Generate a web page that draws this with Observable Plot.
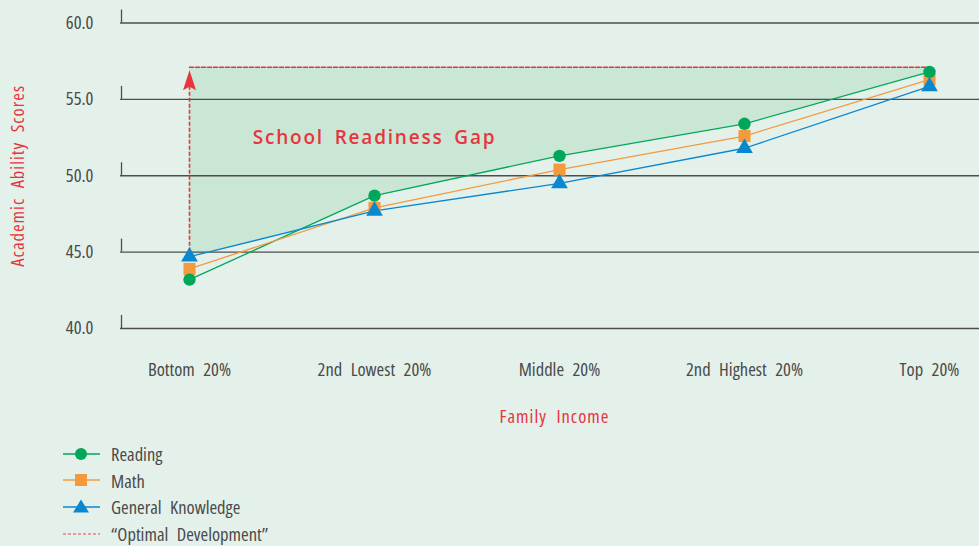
<!DOCTYPE html>
<html><head><meta charset="utf-8">
<script src="https://cdn.jsdelivr.net/npm/d3@7"></script>
<script src="https://cdn.jsdelivr.net/npm/@observablehq/plot@0.6"></script>
<style>
html,body{margin:0;padding:0;background:#e4f1ea;}
body{width:979px;height:546px;overflow:hidden;font-family:"Open Sans",sans-serif;}
#chart svg{display:block;}
#chart svg text{font-stretch:75%;word-spacing:5px;}
#chart svg text.title{letter-spacing:1px;}
#chart svg text.gap{font-stretch:100%;word-spacing:4px;letter-spacing:1.8px;}
#legend{position:relative;height:106px;}
.row{position:absolute;left:62px;height:20px;display:flex;align-items:center;color:#4a4a4a;font-size:18.5px;font-stretch:75%;word-spacing:5px;}
.row svg{width:40px;height:20px;margin-right:9px;display:block;}
</style></head><body><div id="chart"></div><div id="legend"></div>
<script>
const categories = ["Bottom 20%","2nd Lowest 20%","Middle 20%","2nd Highest 20%","Top 20%"];
const reading = [43.2, 48.7, 51.3, 53.4, 56.8];
const math = [43.9, 47.9, 50.4, 52.6, 56.3];
const generalKnowledge = [44.7, 47.7, 49.5, 51.8, 55.85];
const optimalDevelopment = 57.1;
const seriesNames = ["Reading","Math","General Knowledge"];
const optimalLabel = "\u201cOptimal Development\u201d";
const yTicks = [40, 45, 50, 55, 60];
const gapLabel = "School Readiness Gap";
const gapLabelY = 52.5;
const arrowStart = 45.0;
const arrowTip = 56.9;
const yTitle = "Academic Ability Scores";
const xTitle = "Family Income";

const colors = ["#00a65a", "#f39a3e", "#0a88cf"];
const red = "#e8343f";
const bg = "#e4f1ea";
const shade = "#c9e7d4";

const seriesValues = [reading, math, generalKnowledge];
const rows = [];
seriesNames.forEach((s, k) => categories.forEach((c, i) => rows.push({cat: c, series: s, v: seriesValues[k][i]})));
const gap = categories.map((c, i) => ({cat: c, low: Math.min(reading[i], math[i], generalKnowledge[i]), high: optimalDevelopment}));

const arrowShape = {
  draw(ctx, l) {
    ctx.moveTo(0, -l);
    ctx.lineTo(-6.5, 0);
    ctx.lineTo(0, -l * 0.18);
    ctx.lineTo(6.5, 0);
    ctx.closePath();
  }
};

const chart = Plot.plot({
  width: 979, height: 440,
  marginTop: 22.5, marginBottom: 112, marginLeft: 120, marginRight: 0,
  style: {background: "transparent", fontFamily: '"Open Sans",sans-serif', fontSize: "18.5px", color: "#4a4a4a", overflow: "visible"},
  x: {type: "point", domain: categories, padding: 0, insetLeft: 68, insetRight: 50},
  y: {domain: [40, 60]},
  color: {domain: seriesNames, range: colors},
  symbol: {domain: seriesNames, range: ["circle", "square", "triangle"]},
  r: {type: "identity"},
  marks: [
    // gap shading: fill up to the optimal level, then mask everything below the upper envelope of the series
    Plot.areaY(gap, {x: "cat", y1: "low", y2: "high", fill: shade}),
    ...seriesValues.map(vals => Plot.areaY(categories, {x: d => d, y1: (d, i) => gap[i].low, y2: (d, i) => vals[i], fill: bg})),
    Plot.ruleY(yTicks, {stroke: "#4d4d4d", strokeWidth: 1.3}),
    Plot.ruleX(yTicks, {x: () => categories[0], y1: d => d, y2: d => d + 0.85, dx: -68, stroke: "#4d4d4d", strokeWidth: 1.3}),
    Plot.axisY(yTicks, {tickSize: 0, tickPadding: 27, tickFormat: d => d.toFixed(1), label: null, fontSize: 18.5, fill: "#4a4a4a"}),
    Plot.axisX({tickSize: 0, tickPadding: 34, label: null, fontSize: 18.5, fill: "#4a4a4a"}),
    Plot.lineY(categories, {x: d => d, y: () => optimalDevelopment, stroke: red, strokeWidth: 1.6, strokeDasharray: "4,2"}),
    Plot.ruleX([arrowStart], {x: () => categories[0], y1: d => d, y2: arrowTip - 0.5, stroke: red, strokeWidth: 1.6, strokeDasharray: "4,2"}),
    Plot.vector([arrowTip], {x: () => categories[0], y: d => d, length: 20, rotate: 0, anchor: "end", shape: arrowShape, fill: red, stroke: "none"}),
    Plot.line(rows, {x: "cat", y: "v", z: "series", stroke: "series", strokeWidth: 1.3}),
    Plot.dot(rows, {x: "cat", y: "v", fill: "series", symbol: "series", r: d => d.series === "Math" ? 6.8 : 6.2, stroke: "none"}),
    Plot.text([gapLabel], {x: () => categories[1], y: () => gapLabelY, text: d => d, fill: red, fontSize: 19, fontWeight: 600, fontFamily: '"Open Sans",sans-serif'}),
    Plot.text([yTitle], {frameAnchor: "left", dx: -102, rotate: -90, textAnchor: "middle", text: d => d, fill: red, fontSize: 18.5}),
    Plot.text([xTitle], {frameAnchor: "bottom", dy: 94, dx: 4.5, text: d => d, fill: red, fontSize: 18.5})
  ]
});
d3.select(chart).selectAll("text").filter(function(){ return this.textContent === gapLabel; }).attr("class", "gap");
d3.select(chart).selectAll("text").filter(function(){ return this.textContent === yTitle || this.textContent === xTitle; }).attr("class", "title");
document.getElementById("chart").appendChild(chart);

// legend
const legend = document.getElementById("legend");
const legendItems = [...seriesNames, optimalLabel];
const shapes = ["circle", "square", "triangle", "dash"];
legendItems.forEach((name, i) => {
  const row = document.createElement("div");
  row.className = "row";
  row.style.top = (3.5 + i * 26.7) + "px";
  let sym = "";
  if (shapes[i] === "circle") sym = `<circle cx="19" cy="10" r="6" fill="${colors[0]}"/>`;
  if (shapes[i] === "square") sym = `<rect x="13" y="4" width="12" height="12" fill="${colors[1]}"/>`;
  if (shapes[i] === "triangle") sym = `<path d="M19,2.5 L27,15.5 L11,15.5 Z" fill="${colors[2]}"/>`;
  const line = shapes[i] === "dash"
    ? `<line x1="1" x2="38" y1="10" y2="10" stroke="${red}" stroke-opacity="0.6" stroke-width="1.3" stroke-dasharray="3,2"/>`
    : `<line x1="1" x2="38" y1="10" y2="10" stroke="${colors[i]}" stroke-width="1.3"/>`;
  row.innerHTML = `<svg viewBox="0 0 40 20">${line}${sym}</svg><span>${name}</span>`;
  legend.appendChild(row);
});
</script>
</body></html>
